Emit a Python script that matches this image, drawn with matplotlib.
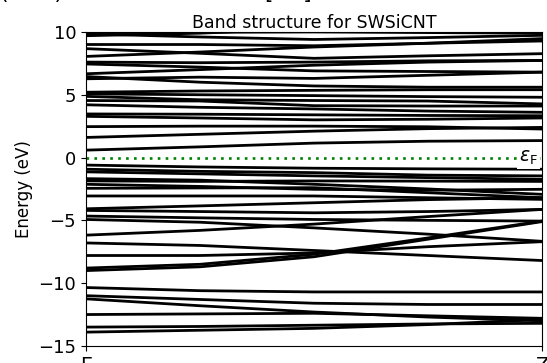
import numpy as np
import matplotlib
matplotlib.use("Agg")
import matplotlib.pyplot as plt

# k-path samples (Gamma -> Z, fractional)
kpts = [0.0, 0.25, 0.5, 0.75, 1.0]
klabels = ["Γ", "Z"]

# bands above the Fermi level (eV)
cond_bands = [
    [9.95, 9.97, 10.0, 9.95, 9.9],
    [9.85, 9.6, 9.4, 9.55, 9.73],
    [9.7, 9.9, 10.3, 10.6, 10.8],
    [9.0, 9.0, 8.9, 9.1, 9.47],
    [8.67, 8.3, 7.9, 8.1, 8.27],
    [8.05, 8.4, 8.8, 9.1, 9.28],
    [7.6, 7.55, 7.6, 7.7, 7.73],
    [7.45, 7.2, 6.9, 6.85, 6.8],
    [6.67, 7.0, 7.35, 7.6, 7.73],
    [6.45, 6.0, 5.7, 5.6, 5.6],
    [6.27, 6.4, 6.3, 6.55, 6.8],
    [5.2, 5.3, 5.35, 5.4, 5.4],
    [5.07, 5.0, 4.93, 4.85, 4.8],
    [4.87, 4.6, 4.54, 4.5, 4.27],
    [4.54, 4.5, 4.13, 4.1, 4.1],
    [4.2, 4.0, 3.87, 3.7, 3.6],
    [3.47, 3.45, 3.4, 3.35, 3.33],
    [3.28, 3.15, 3.0, 3.05, 3.15],
    [2.46, 2.5, 2.5, 2.45, 2.27],
    [1.6, 1.85, 2.1, 2.3, 2.4],
    [0.59, 0.85, 1.15, 1.3, 1.35],
]

# bands below the Fermi level (eV)
val_bands = [
    [-0.6, -0.75, -0.85, -0.9, -0.93],
    [-0.93, -1.1, -1.2, -1.4, -1.46],
    [-1.14, -1.3, -1.46, -1.6, -1.73],
    [-1.68, -1.8, -2.13, -2.5, -2.93],
    [-1.86, -1.9, -1.86, -1.88, -1.9],
    [-2.13, -2.3, -2.53, -2.6, -2.53],
    [-2.45, -2.42, -2.4, -2.8, -3.2],
    [-3.06, -3.06, -3.06, -3.2, -3.33],
    [-4.08, -3.85, -3.6, -3.35, -3.2],
    [-4.21, -4.3, -4.4, -4.3, -4.13],
    [-4.66, -4.8, -4.93, -5.0, -5.06],
    [-4.93, -5.15, -5.6, -6.1, -6.67],
    [-6.18, -5.8, -5.3, -4.7, -4.13],
    [-6.8, -7.0, -7.4, -7.8, -8.2],
    [-7.8, -7.8, -7.6, -7.1, -6.7],
    [-8.8, -8.5, -7.7, -6.4, -5.06],
    [-9.0, -8.7, -7.9, -6.5, -5.1],
    [-10.35, -10.6, -10.7, -10.7, -10.7],
    [-11.0, -11.3, -11.6, -11.7, -11.7],
    [-11.25, -11.8, -12.3, -12.7, -13.0],
    [-12.5, -12.45, -12.4, -12.6, -12.8],
    [-13.5, -13.45, -13.35, -13.25, -13.2],
    [-13.9, -13.75, -13.6, -13.3, -12.9],
]

e_fermi = 0.0

fig = plt.figure(figsize=(5.47, 3.63), dpi=100)
ax = fig.add_axes([0.157, 0.047, 0.834, 0.865])

for band in cond_bands + val_bands:
    ax.plot(kpts, band, color="k", lw=2.0)

ax.axhline(e_fermi, color="green", ls=(0, (1, 2.0)), lw=1.9)
ax.text(0.99, e_fermi, r"$\varepsilon_\mathrm{F}$", fontsize=13.5,
        ha="right", va="center",
        bbox=dict(facecolor="white", edgecolor="none", pad=1.5))

ax.set_xlim(0, 1)
ax.set_ylim(-15, 10)
ax.set_xticks([0, 1])
ax.set_xticklabels(klabels, fontsize=14)
ax.set_yticks([-15, -10, -5, 0, 5, 10])
ax.tick_params(axis="y", labelsize=13)
ax.set_ylabel("Energy (eV)", fontsize=12)
ax.set_title("Band structure for SWSiCNT", fontsize=12.5, pad=3)

# caption line from the page above, clipped by the crop
fig.text(0.0, 1.02, "(CNT) with SiC width of [SC].", fontsize=16,
         ha="left", va="center", color="k")

fig.savefig("out.png", dpi=100)
